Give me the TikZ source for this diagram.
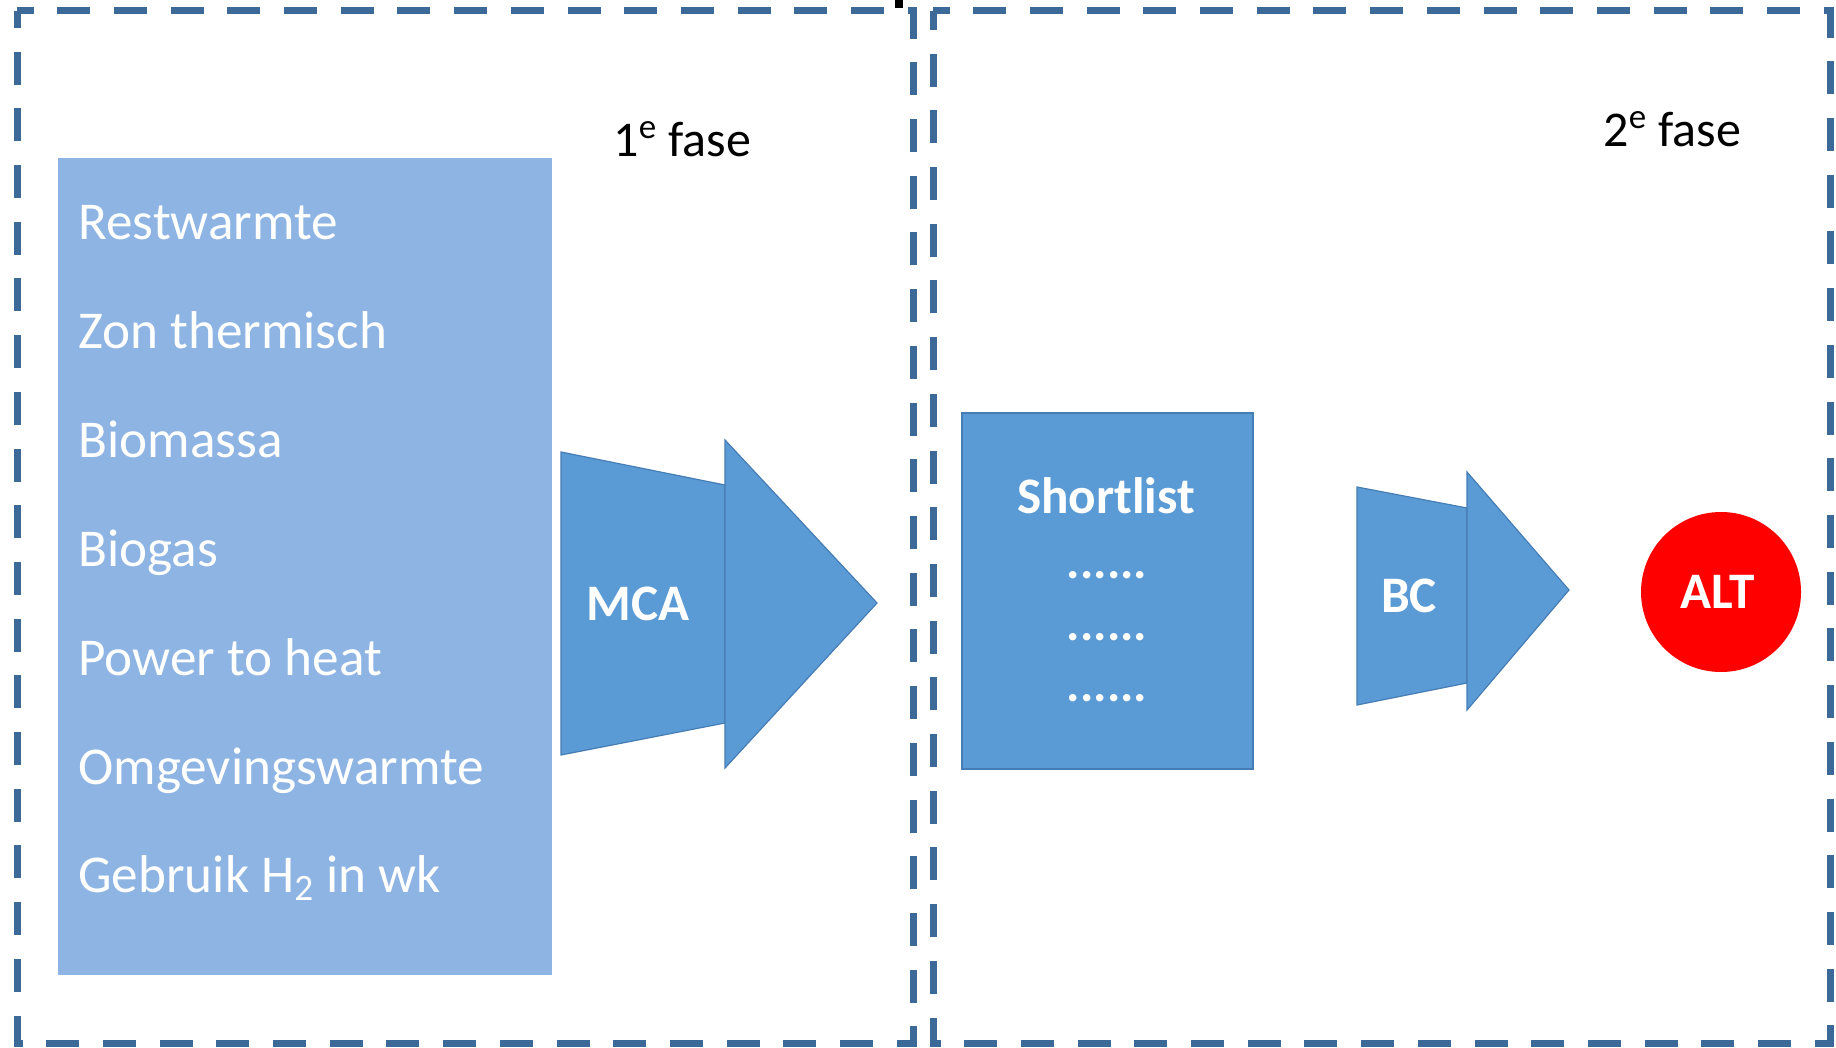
\documentclass[tikz,border=0pt]{standalone}
\usepackage{fontspec}
\setmainfont{Carlito}
\definecolor{dashblue}{RGB}{59,106,152}
\definecolor{lightbox}{RGB}{142,180,227}
\definecolor{midblue}{RGB}{91,155,213}
\definecolor{edgeblue}{RGB}{70,125,180}
\definecolor{altred}{RGB}{255,0,0}
\begin{document}
\begin{tikzpicture}[x=0.5pt,y=-0.5pt,
  phasebox/.style={draw=dashblue,line width=3.5pt,dash pattern=on 16.5pt off 11.85pt,dash phase=8.25pt},
  shapeblue/.style={fill=midblue,draw=edgeblue,line width=0.6pt},
  listtext/.style={text=white,font=\fontsize{26.6}{30}\selectfont,anchor=base west,inner sep=0},
  boldlabel/.style={text=white,font=\fontsize{25.6}{30}\selectfont\bfseries,anchor=base,inner sep=0},
  dotlabel/.style={text=white,font=\fontsize{25}{28}\selectfont\bfseries,anchor=base,inner sep=0},
  phaselabel/.style={text=black,font=\fontsize{25}{28}\selectfont,anchor=base west,inner sep=0}]
\useasboundingbox (0,0) rectangle (1836,1048);
\fill[white] (0,0) rectangle (1836,1048);
% phase frames
\draw[phasebox] (17,11) -- (913,11) -- (913,1043) -- (17,1043) -- cycle;
\draw[phasebox] (933,11) -- (1830,11) -- (1830,1043) -- (933,1043) -- cycle;
\fill[black] (895,0) rectangle (903,8);
% phase labels
\node[phaselabel] (fase1) at (613,157) {1\textsuperscript{e} fase};
\node[phaselabel] (fase2) at (1603,147) {2\textsuperscript{e} fase};
% option list
\fill[lightbox] (58,158) rectangle (552,975);
\node[listtext] (l1) at (78,240) {Restwarmte};
\node[listtext] (l2) at (78,348.8) {Zon thermisch};
\node[listtext] (l3) at (78,457.6) {Biomassa};
\node[listtext] (l4) at (78,566.4) {Biogas};
\node[listtext] (l5) at (78,675.2) {Power to heat};
\node[listtext] (l6) at (78,784) {Omgevingswarmte};
\node[listtext] (l7) at (78,892.8) {Gebruik H\textsubscript{2} in wk};
% MCA arrow
\filldraw[shapeblue] (561,452) -- (725,485) -- (725,723) -- (561,755) -- cycle;
\filldraw[shapeblue] (725,440) -- (877,603) -- (725,768) -- cycle;
\node[boldlabel] (mca) at (638,620) {MCA};
% shortlist
\filldraw[shapeblue] (962,413) rectangle (1253,769);
\node[boldlabel] (short) at (1106,513) {Shortlist};
\node[dotlabel] (d1) at (1107,578) {......};
\node[dotlabel] (d2) at (1107,640) {......};
\node[dotlabel] (d3) at (1107,701) {......};
% BC arrow
\filldraw[shapeblue] (1357,487) -- (1467,508) -- (1467,683) -- (1357,705) -- cycle;
\filldraw[shapeblue] (1467,472) -- (1569,590) -- (1467,710) -- cycle;
\node[boldlabel] (bc) at (1409,612) {BC};
% ALT
\fill[altred] (1721,592) circle (80);
\node[boldlabel] (alt) at (1718,608) {ALT};
\end{tikzpicture}
\end{document}
